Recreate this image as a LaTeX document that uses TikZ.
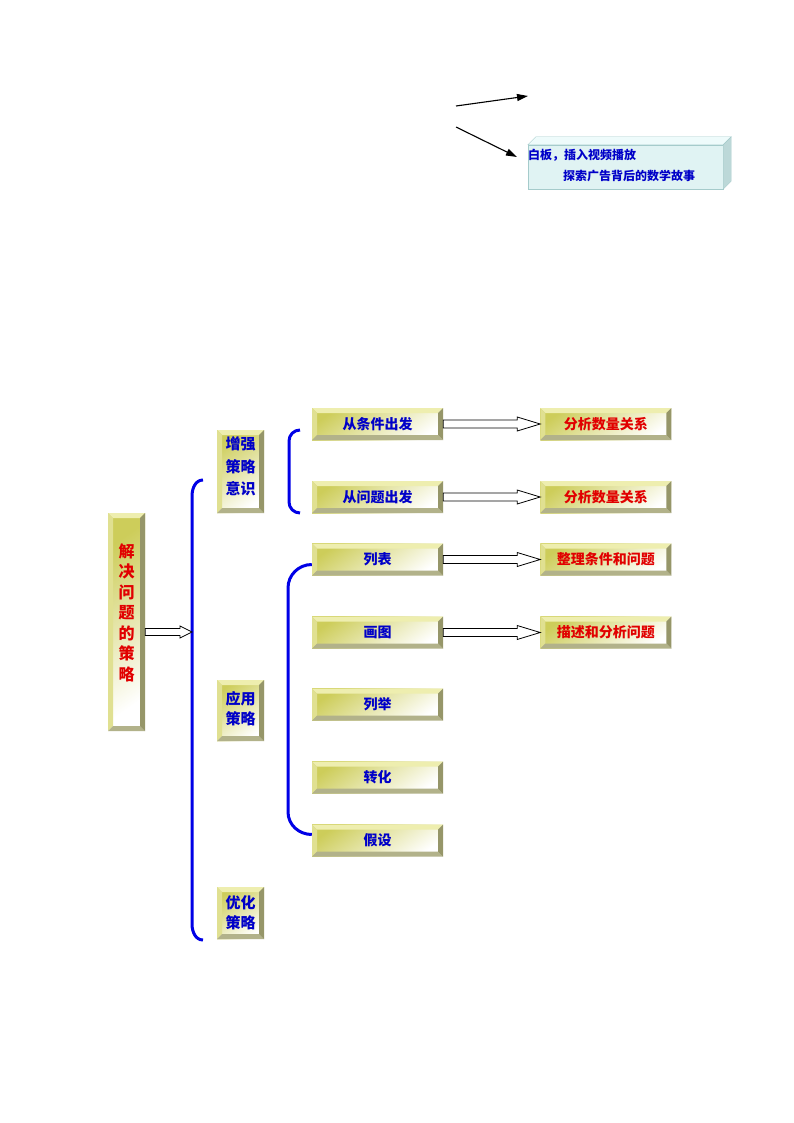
\documentclass[tikz,border=0pt]{standalone}
\usepackage{fontspec}
\setmainfont{Noto Sans CJK SC}
\usetikzlibrary{arrows.meta, positioning, calc}

\definecolor{boxolive}{RGB}{205,205,90}
\definecolor{bevlight}{RGB}{238,238,175}
\definecolor{bevleft}{RGB}{224,224,145}
\definecolor{bevdark}{RGB}{150,150,105}
\definecolor{bevbottom}{RGB}{178,178,138}
\definecolor{txtblue}{RGB}{0,0,200}
\definecolor{txtred}{RGB}{225,0,0}
\definecolor{linkblue}{RGB}{0,0,230}
\definecolor{cyanface}{RGB}{224,243,243}
\definecolor{cyantop}{RGB}{238,251,251}
\definecolor{cyanside}{RGB}{188,216,216}
\definecolor{cyanedge}{RGB}{165,203,203}

\begin{document}
\begin{tikzpicture}[x=1pt, y=-1pt,
    bevel/.style={inner sep=0pt, top color=boxolive, bottom color=white, shading angle=35,
      align=center, font=\bfseries\fontsize{14}{21}\selectfont,
      path picture={
        \fill[bevlight] (path picture bounding box.north west) -- (path picture bounding box.north east)
          -- ([shift={(-5pt,-5pt)}]path picture bounding box.north east) -- ([shift={(5pt,-5pt)}]path picture bounding box.north west) -- cycle;
        \fill[bevleft] (path picture bounding box.north west) -- ([shift={(5pt,-5pt)}]path picture bounding box.north west)
          -- ([shift={(5pt,5pt)}]path picture bounding box.south west) -- (path picture bounding box.south west) -- cycle;
        \fill[bevbottom] (path picture bounding box.south west) -- (path picture bounding box.south east)
          -- ([shift={(-5pt,5pt)}]path picture bounding box.south east) -- ([shift={(5pt,5pt)}]path picture bounding box.south west) -- cycle;
        \fill[bevdark] (path picture bounding box.north east) -- ([shift={(-5pt,-5pt)}]path picture bounding box.north east)
          -- ([shift={(-5pt,5pt)}]path picture bounding box.south east) -- (path picture bounding box.south east) -- cycle;
      }},
    mainbox/.style={bevel, minimum width=37pt, minimum height=218pt, text=txtred,
      font=\bfseries\fontsize{16}{20.5}\selectfont},
    stratbox/.style={bevel, minimum width=47pt, text=txtblue, font=\bfseries\fontsize{15}{21}\selectfont},
    stepbox/.style={bevel, minimum width=131pt, minimum height=32pt, text=txtblue},
    resultbox/.style={bevel, minimum width=131pt, minimum height=32pt, text=txtred},
    hollow/.style={draw=black, fill=white, line width=0.8pt},
    brace/.style={draw=linkblue, line width=3pt},
    pointer/.style={-{Triangle[length=11pt, width=7pt]}, line width=1.1pt}]

\useasboundingbox (0,0) rectangle (794,1123);

% Top: note box with two pointers
\node[fill=cyanface, draw=cyanedge, inner sep=0pt, minimum width=195pt, minimum height=44pt,
  text width=195pt, align=left, text=txtblue, font=\bfseries\fontsize{12}{21}\selectfont]
  (note) at (625.5,167) {白板，插入视频播放\\\hspace*{35pt}探索广告背后的数学故事\\[-17pt]\mbox{}};
\filldraw[fill=cyantop, draw=cyanedge] (note.north west) -- ++(8pt,8pt) -- ([shift={(8pt,8pt)}]note.north east) -- (note.north east) -- cycle;
\filldraw[fill=cyanside, draw=cyanedge] (note.north east) -- ++(8pt,8pt) -- ([shift={(8pt,8pt)}]note.south east) -- (note.south east) -- cycle;

\coordinate (p1s) at (456,106);
\coordinate (p1e) at (528,96);
\coordinate (p2s) at (456,127);
\coordinate (p2e) at (517,157);
\draw[pointer] (p1s) -- (p1e);
\draw[pointer] (p2s) -- (p2e);

% Root and the three strategies
\node[mainbox] (main) at (126.5,622) {解\\决\\问\\题\\的\\策\\略\\\mbox{}};
\node[stratbox, minimum height=83pt, font=\bfseries\fontsize{15}{22.5}\selectfont] (enhance) at (240.5,471.5) {增强\\策略\\意识\\[-11pt]\mbox{}};
\node[stratbox, minimum height=61pt, font=\bfseries\fontsize{15}{20}\selectfont] (apply) at (240.5,710.5) {应用\\策略\\[-15pt]\mbox{}};
\node[stratbox, minimum height=52pt, font=\bfseries\fontsize{15}{19.5}\selectfont] (optimize) at (240.5,913) {优化\\策略};

% Steps
\node[stepbox] (cond) at (377.5,424) {从条件出发};
\node[stepbox] (ques) at (377.5,497) {从问题出发};
\node[stepbox] (list) at (377.5,559.5) {列表};
\node[stepbox] (pic) at (377.5,632.5) {画图};
\node[stepbox] (enum) at (377.5,704.5) {列举};
\node[stepbox] (trans) at (377.5,777.5) {转化};
\node[stepbox] (assume) at (377.5,840.5) {假设};

% Results
\node[resultbox, right=97pt of cond] (res1) {分析数量关系};
\node[resultbox, right=97pt of ques] (res2) {分析数量关系};
\node[resultbox, right=97pt of list] (res3) {整理条件和问题};
\node[resultbox, right=97pt of pic] (res4) {描述和分析问题};

% Brackets
\coordinate (bigtop) at (203,480);
\coordinate (bigbot) at (203,940);
\coordinate (mid) at (192,632);
\draw[brace] (bigtop) to[out=180, in=90] (192,496) -- (192,924) to[out=-90, in=180] (bigbot);

\coordinate (smalltop) at (300,430);
\coordinate (smallbot) at (300,513);
\draw[brace] (smalltop) to[out=180, in=90] (289,441) -- (289,502) to[out=-90, in=180] (smallbot);

\draw[brace] ([yshift=-5pt]list.west) to[out=180, in=90] (288,588) -- (288,812) to[out=-90, in=180] ([yshift=6pt]assume.west);

% Hollow arrows
\draw[hollow] ([yshift=3.5pt]main.east |- mid) -- ([shift={(-12pt,3.5pt)}]mid) -- ([shift={(-12pt,6pt)}]mid) -- (mid)
  -- ([shift={(-12pt,-6pt)}]mid) -- ([shift={(-12pt,-3.5pt)}]mid) -- ([yshift=-3.5pt]main.east |- mid) -- cycle;
\foreach \src/\dst in {cond/res1, ques/res2, list/res3, pic/res4}{
  \draw[hollow] ([yshift=4pt]\src.east) -- ([shift={(-23pt,4pt)}]\dst.west) -- ([shift={(-23pt,7pt)}]\dst.west) -- (\dst.west)
    -- ([shift={(-23pt,-7pt)}]\dst.west) -- ([shift={(-23pt,-4pt)}]\dst.west) -- ([yshift=-4pt]\src.east) -- cycle;
}

\end{tikzpicture}
\end{document}
